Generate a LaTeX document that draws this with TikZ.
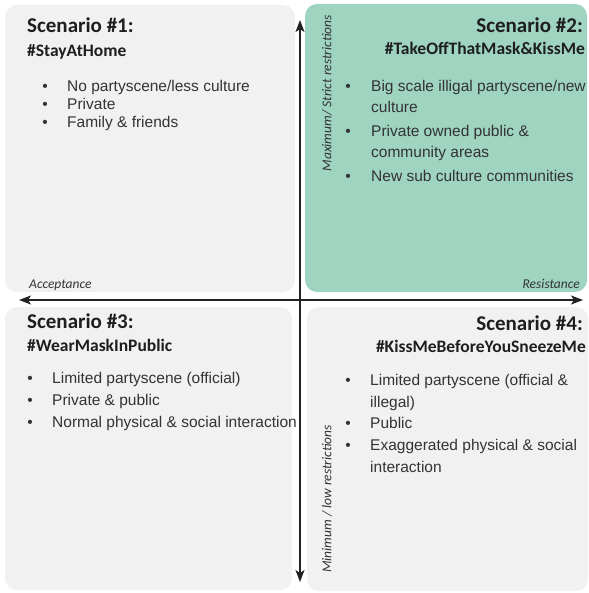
\documentclass[tikz,border=0pt]{standalone}
\usepackage{fontspec}
\setmainfont{Liberation Sans}
\newfontfamily\calfont{Carlito}
\usetikzlibrary{arrows.meta}
\definecolor{boxgray}{HTML}{F1F1F1}
\definecolor{boxgreen}{HTML}{9FD4C0}
\definecolor{txt}{HTML}{333333}
\definecolor{ttl}{HTML}{1E1E1E}
\definecolor{axis}{HTML}{222222}
\tikzset{
  quad/.style={rounded corners=12pt, draw=none},
  ttlw/.style={font=\calfont\bfseries\fontsize{21}{24}\selectfont, text=ttl, inner sep=0pt, anchor=base west},
  ttle/.style={font=\calfont\bfseries\fontsize{21}{24}\selectfont, text=ttl, inner sep=0pt, anchor=base east},
  tagw/.style={font=\calfont\bfseries\fontsize{17.5}{20}\selectfont, text=ttl, inner sep=0pt, anchor=base west},
  tage/.style={font=\calfont\bfseries\fontsize{17.5}{20}\selectfont, text=ttl, inner sep=0pt, anchor=base east},
  itm/.style={font=\fontsize{15.5}{18}\selectfont, text=txt, inner sep=0pt, anchor=base west},
  bul/.style={font=\fontsize{15.5}{18}\selectfont, text=txt, inner sep=0pt, anchor=base},
  axlab/.style={font=\calfont\itshape\fontsize{13.5}{16}\selectfont, text=txt, inner sep=0pt},
  axarrow/.style={draw=axis, line width=1.8pt, {Stealth[length=12pt,width=9pt,inset=3pt]}-{Stealth[length=12pt,width=9pt,inset=3pt]}}
}
\begin{document}
\begin{tikzpicture}[x=1pt,y=-1pt]
\useasboundingbox (0,0) rectangle (588,593);
\fill[white] (0,0) rectangle (588,593);
% quadrants
\fill[quad, boxgray] (5,5) rectangle (295,292);
\fill[quad, boxgreen] (305,4) rectangle (587,292);
\fill[quad, boxgray] (5,307) rectangle (292,590);
\fill[quad, boxgray] (307,307) rectangle (588,591);
% axes
\coordinate (vt) at (300,20);
\coordinate (vb) at (300,582);
\coordinate (hl) at (19,300);
\coordinate (hr) at (583,300);
\draw[axarrow] (vb) -- (vt);
\draw[axarrow] (hl) -- (hr);
% axis labels
\node[axlab, anchor=base west] (acc) at (29,288) {Acceptance};
\node[axlab, anchor=base east] (res) at (580,288) {Resistance};
\node[axlab, anchor=east, rotate=90] (maxl) at (327,15) {Maximum/ Strict restrictions};
\node[axlab, anchor=west, rotate=90] (minl) at (327,573) {Minimum / low restrictions};
% Scenario 1
\node[ttlw] (s1) at (27,33) {Scenario \#1:};
\node[tagw] (t1) at (27,57) {\#StayAtHome};
\node[bul] (b11) at (45,92) {•};
\node[itm] (i11) at (67,92) {No partyscene/less culture};
\node[bul] (b12) at (45,110) {•};
\node[itm] (i12) at (67,110) {Private};
\node[bul] (b13) at (45,128) {•};
\node[itm] (i13) at (67,128) {Family \& friends};
% Scenario 2
\node[ttle] (s2) at (583,33) {Scenario \#2:};
\node[tage] (t2) at (585,55) {\#TakeOffThatMask\&KissMe};
\node[bul] (b21) at (348,92) {•};
\node[itm] (i21) at (371,92) {Big scale illigal partyscene/new};
\node[itm] (i21b) at (371,113) {culture};
\node[bul] (b22) at (348,137) {•};
\node[itm] (i22) at (371,137) {Private owned public \&};
\node[itm] (i22b) at (371,158) {community areas};
\node[bul] (b23) at (348,182) {•};
\node[itm] (i23) at (371,182) {New sub culture communities};
% Scenario 3
\node[ttlw] (s3) at (27,328) {Scenario \#3:};
\node[tagw] (t3) at (27,351) {\#WearMaskInPublic};
\node[bul] (b31) at (30,383) {•};
\node[itm] (i31) at (52,383) {Limited partyscene (official)};
\node[bul] (b32) at (30,405) {•};
\node[itm] (i32) at (52,405) {Private \& public};
\node[bul] (b33) at (30,427) {•};
\node[itm] (i33) at (52,427) {Normal physical \& social interaction};
% Scenario 4
\node[ttle] (s4) at (583,330) {Scenario \#4:};
\node[tage] (t4) at (586,352) {\#KissMeBeforeYouSneezeMe};
\node[bul] (b41) at (348,385) {•};
\node[itm] (i41) at (370,385) {Limited partyscene (official \&};
\node[itm] (i41b) at (370,407) {illegal)};
\node[bul] (b42) at (348,428) {•};
\node[itm] (i42) at (370,428) {Public};
\node[bul] (b43) at (348,450) {•};
\node[itm] (i43) at (370,450) {Exaggerated physical \& social};
\node[itm] (i43b) at (370,472) {interaction};
\end{tikzpicture}
\end{document}
